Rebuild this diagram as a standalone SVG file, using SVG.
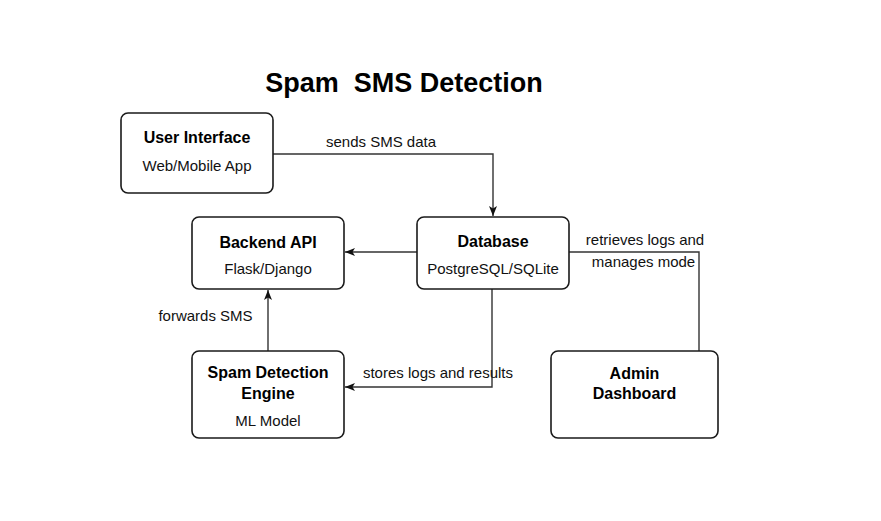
<svg xmlns="http://www.w3.org/2000/svg" width="881" height="521" viewBox="0 0 881 521">
<style>
.box{fill:#fff;stroke:#1a1a1a;stroke-width:1.6}
.t{font-family:"Liberation Sans",Arial,sans-serif;font-weight:bold;font-size:16px;fill:#000;text-anchor:middle}
.s{font-family:"Liberation Sans",Arial,sans-serif;font-size:15px;fill:#111;text-anchor:middle}
.lbl{font-family:"Liberation Sans",Arial,sans-serif;font-size:15px;fill:#111;text-anchor:middle}
.ln{fill:none;stroke:#333;stroke-width:1.4}
</style>
<defs>
<marker id="arr" markerUnits="userSpaceOnUse" markerWidth="11" markerHeight="9" refX="10" refY="4" orient="auto">
<path d="M0,0 L10,4 L0,8 L2.5,4 z" fill="#111"/>
</marker>
</defs>
<rect width="881" height="521" fill="#fff"/>
<text x="404" y="92" style="font-family:'Liberation Sans',Arial,sans-serif;font-weight:bold;font-size:27px;fill:#000" text-anchor="middle" xml:space="preserve">Spam  SMS Detection</text>
<g id="connectors">
<path class="ln" d="M273,154 H493 V216" marker-end="url(#arr)"/>
<path class="ln" d="M417,252 H345" marker-end="url(#arr)"/>
<path class="ln" d="M268,351 V290" marker-end="url(#arr)"/>
<path class="ln" d="M492,289 V387 H345" marker-end="url(#arr)"/>
<path class="ln" d="M569,252 H699 V351"/>
<text class="lbl" x="381" y="147">sends SMS data</text>
<text class="lbl" x="205.5" y="321">forwards SMS</text>
<text class="lbl" x="438" y="378">stores logs and results</text>
<text class="lbl" x="645" y="245">retrieves logs and</text>
<text class="lbl" x="643.5" y="267">manages mode</text>
</g>
<g id="user-interface">
<rect class="box" x="121" y="113" width="152" height="80" rx="7"/>
<text class="t" x="197" y="143">User Interface</text>
<text class="s" x="197" y="171">Web/Mobile App</text>
</g>
<g id="backend-api">
<rect class="box" x="192" y="217" width="152" height="72" rx="7"/>
<text class="t" x="268" y="248">Backend API</text>
<text class="s" x="268" y="274">Flask/Django</text>
</g>
<g id="database">
<rect class="box" x="417" y="217" width="152" height="72" rx="7"/>
<text class="t" x="493" y="247">Database</text>
<text class="s" x="493" y="274">PostgreSQL/SQLite</text>
</g>
<g id="spam-detection-engine">
<rect class="box" x="192" y="351" width="152" height="87" rx="7"/>
<text class="t" x="268" y="378">Spam Detection</text>
<text class="t" x="268" y="399">Engine</text>
<text class="s" x="268" y="426">ML Model</text>
</g>
<g id="admin-dashboard">
<rect class="box" x="551" y="351" width="167" height="87" rx="7"/>
<text class="t" x="634.5" y="379">Admin</text>
<text class="t" x="634.5" y="399">Dashboard</text>
</g>
</svg>
